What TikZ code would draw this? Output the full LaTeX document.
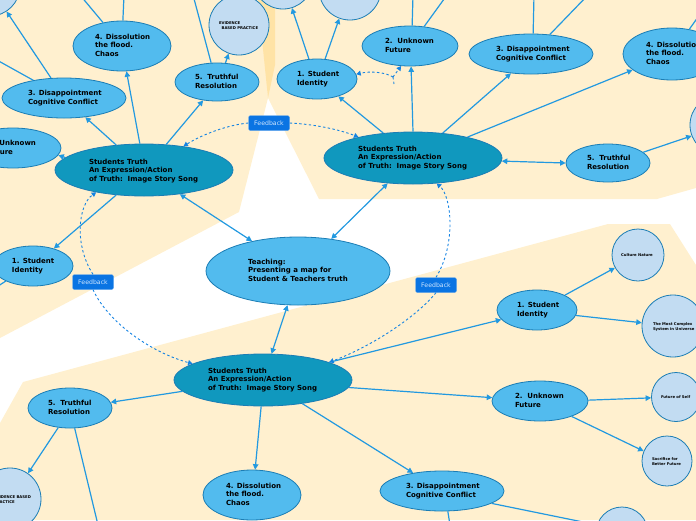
\documentclass[tikz,border=0pt]{standalone}
\usepackage{fontspec}
\setmainfont{DejaVu Sans}
\usetikzlibrary{shapes.geometric,arrows.meta}
\definecolor{beige}{HTML}{FFF0CF}
\definecolor{wedge}{HTML}{FFE3A6}
\definecolor{lightblue}{HTML}{52BBEE}
\definecolor{tealblue}{HTML}{1098BE}
\definecolor{paleblue}{HTML}{C2DCF2}
\definecolor{edgeblue}{HTML}{1B7DB5}
\definecolor{linkblue}{HTML}{2299E0}
\definecolor{fbblue}{HTML}{0A74E3}
\definecolor{fbtext}{HTML}{CFE6FF}
\newcommand\etext[3]{\smash{\rlap{\hspace*{#1pt}\raisebox{\dimexpr#2pt-2pt\relax}{\begin{tabular}[c]{@{}l@{}}#3\end{tabular}}}}}
\tikzset{
  bg/.style={fill=beige,draw=none},
  topic/.style={ellipse,draw=edgeblue,line width=0.8pt,fill=lightblue,inner sep=0pt,text=black,
     font=\fontsize{7}{8.5}\selectfont\bfseries},
  truth/.style={topic,fill=tealblue},
  leaf/.style={circle,draw=edgeblue,line width=0.8pt,fill=paleblue,inner sep=0pt,text=black,
     font=\fontsize{3.8}{5}\selectfont\bfseries},
  fb/.style={rectangle,rounded corners=1.5pt,fill=fbblue,draw=fbblue!60!white,line width=0.3pt,text=fbtext,
     minimum width=41pt,minimum height=15pt,inner sep=0pt,font=\fontsize{6.2}{8}\selectfont},
  link/.style={draw=linkblue,line width=1.2pt,-{Triangle[length=5.5pt,width=5.5pt]}},
  plainlink/.style={draw=linkblue,line width=1.2pt},
  both/.style={draw=linkblue,line width=1.2pt,{Triangle[length=5.5pt,width=5.5pt]}-{Triangle[length=5.5pt,width=5.5pt]}},
  fbdash/.style={draw=fbblue!60!linkblue,line width=0.9pt,dash pattern=on 2.4pt off 2.4pt},
  dasharrow/.style={fbdash,-{Triangle[length=4.5pt,width=5pt]}}
}
\begin{document}
\begin{tikzpicture}[x=1pt,y=-1pt]
\useasboundingbox (0,0) rectangle (696,520);
\clip (0,0) rectangle (696,520);
% backgrounds
\fill[bg] (0,0) -- (262,0) -- (268,98) -- (239,212) -- (0,338) -- cycle;
\fill[bg] (262,0) -- (696,0) -- (696,188) -- (657,199) -- (319,199) -- (268,98) -- cycle;
\fill[bg] (0,423) -- (23,382) -- (608,224) -- (670,224) -- (696,265) -- (696,520) -- (0,520) -- cycle;
\fill[wedge] (258,0) -- (275,0) -- (275,65) -- (268,98) -- cycle;
% central
\node[topic,minimum width=184pt,minimum height=68pt] (teach) at (298,271) {\etext{-50}{0}{Teaching:\\Presenting a map for\\Student \& Teachers truth}};
% truth nodes
\node[truth,minimum width=178pt,minimum height=52pt] (stL) at (144,170) {\etext{-55}{-1}{Students Truth\\An Expression/Action\\of Truth:\ \ Image Story Song}};
\node[truth,minimum width=178pt,minimum height=52pt] (stR) at (413,158) {\etext{-55}{0}{Students Truth\\An Expression/Action\\of Truth:\ \ Image Story Song}};
\node[truth,minimum width=178pt,minimum height=52pt] (stB) at (263,380) {\etext{-55}{0}{Students Truth\\An Expression/Action\\of Truth:\ \ Image Story Song}};
% left cluster
\node[topic,minimum width=98pt,minimum height=50pt] (l4) at (122,46) {\etext{-27}{0}{4. Dissolution\\the flood.\\Chaos}};
\node[topic,minimum width=124pt,minimum height=40pt] (l3) at (64,98) {\etext{-36}{0}{3. Disappointment\\Cognitive Conflict}};
\node[topic,minimum width=84pt,minimum height=38pt] (l5) at (217,82) {\etext{-22}{0}{5.\ \ Truthful\\Resolution}};
\node[topic,minimum width=96pt,minimum height=40pt] (l2) at (13,148) {\etext{-26}{0}{2.\ \ Unknown\\Future}};
\node[topic,minimum width=80pt,minimum height=40pt] (l1) at (33,266) {\etext{-21}{0}{1. Student\\Identity}};
% right cluster
\node[topic,minimum width=80pt,minimum height=40pt] (r1) at (317,79) {\etext{-20}{0}{1. Student\\Identity}};
\node[topic,minimum width=96pt,minimum height=40pt] (r2) at (410,46) {\etext{-25}{0}{2.\ \ Unknown\\Future}};
\node[topic,minimum width=124pt,minimum height=40pt] (r3) at (531,54) {\etext{-35}{0}{3. Disappointment\\Cognitive Conflict}};
\node[topic,minimum width=98pt,minimum height=52pt] (r4) at (672,54) {\etext{-26}{0}{4. Dissolution\\the flood.\\Chaos}};
\node[topic,minimum width=84pt,minimum height=38pt] (r5) at (608,163) {\etext{-21}{0}{5.\ \ Truthful\\Resolution}};
% bottom cluster
\node[topic,minimum width=80pt,minimum height=40pt] (b1) at (537,310) {\etext{-20}{0}{1. Student\\Identity}};
\node[topic,minimum width=96pt,minimum height=40pt] (b2) at (540,401) {\etext{-25}{0}{2.\ \ Unknown\\Future}};
\node[topic,minimum width=124pt,minimum height=40pt] (b3) at (442,491) {\etext{-36}{0}{3. Disappointment\\Cognitive Conflict}};
\node[topic,minimum width=98pt,minimum height=50pt] (b4) at (252,495) {\etext{-26}{0}{4. Dissolution\\the flood.\\Chaos}};
\node[topic,minimum width=84pt,minimum height=40pt] (b5) at (70,408) {\etext{-22}{0}{5.\ \ Truthful\\Resolution}};
% leaves
\node[leaf,minimum size=60pt] (evT) at (239,25) {\etext{-20}{0}{EVIDENCE\\\ \ BASED PRACTICE}};
\node[leaf,minimum size=60pt] (cA) at (-10,-14) {};
\node[leaf,minimum size=60pt] (cB) at (283,-21) {};
\node[leaf,minimum size=62pt] (cC) at (350,-11) {};
\node[leaf,minimum size=60pt] (cD) at (720,125) {};
\node[leaf,minimum size=52pt] (culture) at (638,255) {\etext{-17}{0}{Culture Nature}};
\node[leaf,minimum size=62pt] (complex) at (673,326) {\etext{-20}{0}{The Most Complex\\System in Universe}};
\node[leaf,minimum size=49pt] (future) at (676,397) {\etext{-15}{0}{Future of Self}};
\node[leaf,minimum size=50pt] (sacrifice) at (667,461) {\etext{-15}{0}{Sacrifice for\\Better Future}};
\node[leaf,minimum size=62pt] (evB) at (10,499) {\etext{-16}{0}{EVIDENCE BASED\\PRACTICE}};
\node[leaf,minimum size=52pt] (cE) at (622,533) {};
% feedback
\node[fb] (fb1) at (269,123) {Feedback};
\node[fb] (fb2) at (93,282) {Feedback};
\node[fb] (fb3) at (436,285) {Feedback};
% free ends
\coordinate (e3a) at (-5,59);
\coordinate (e4a) at (80,-5);
\coordinate (e4b) at (124,-5);
\coordinate (e5a) at (193,-5);
\coordinate (e1l) at (-5,288);
\coordinate (er2a) at (413,-5);
\coordinate (er2b) at (447,-5);
\coordinate (er3a) at (534,-5);
\coordinate (er3b) at (588,-5);
\coordinate (er4) at (703,10);
\coordinate (eb5) at (98,525);
\coordinate (eb3) at (450,525);
\coordinate (pivot) at (393,77);
\coordinate (stub) at (394,84);
% links left
\draw[link] (stL.99) -- (l4.280);
\draw[link] (stL.138) -- (l3.318);
\draw[link] (stL.49) -- (l5.233);
\draw[link] (stL.171) -- (l2.351);
\draw[link] (stL.222) -- (l1.40);
\draw[both] (stL.326) -- (teach.147);
\draw[link] (l3.123) -- (cA.303);
\draw[plainlink] (l3.150) -- (e3a);
\draw[plainlink] (l4.129) -- (e4a);
\draw[plainlink] (l4.88) -- (e4b);
\draw[link] (l5.66) -- (evT.250);
\draw[plainlink] (l5.107) -- (e5a);
\draw[plainlink] (l1.209) -- (e1l);
% links right
\draw[both] (stR.225) -- (teach.44);
\draw[link] (stR.140) -- (r1.321);
\draw[link] (stR.90) -- (r2.273);
\draw[link] (stR.40) -- (r3.224);
\draw[link] (stR.21) -- (r4.202);
\draw[both] (stR.358) -- (r5.180);
\draw[link] (r5.17) -- (cD.201);
\draw[link] (r1.112) -- (cB.287);
\draw[link] (r1.68) -- (cC.250);
\draw[plainlink] (r2.84) -- (er2a);
\draw[plainlink] (r2.54) -- (er2b);
\draw[plainlink] (r3.84) -- (er3a);
\draw[plainlink] (r3.46) -- (er3b);
\draw[plainlink] (r4.55) -- (er4);
% links bottom
\draw[both] (teach.253) -- (stB.72);
\draw[link] (stB.188) -- (b5.8);
\draw[link] (stB.266) -- (b4.83);
\draw[link] (stB.329) -- (b3.148);
\draw[link] (stB.355) -- (b2.176);
\draw[link] (stB.15) -- (b1.195);
\draw[link] (b5.239) -- (evB.55);
\draw[plainlink] (b5.283) -- (eb5);
\draw[link] (b1.28) -- (culture.209);
\draw[link] (b1.352) -- (complex.174);
\draw[link] (b2.1) -- (future.182);
\draw[link] (b2.334) -- (sacrifice.157);
\draw[link] (b3.346) -- (cE.162);
\draw[plainlink] (b3.286) -- (eb3);
% feedback dashed
\draw[dasharrow] (fb1.west) .. controls (228,125) and (203,134) .. (stL.31);
\draw[dasharrow] (fb1.east) .. controls (312,124) and (338,129) .. (stR.159);
\draw[dasharrow] (fb2.north) .. controls (74,245) and (78,205) .. (stL.205);
\draw[dasharrow] (fb2.south) .. controls (108,322) and (150,352) .. (stB.167);
\draw[dasharrow] (fb3.north) .. controls (456,245) and (452,197) .. (stR.313);
\draw[dasharrow] (fb3.south) .. controls (418,315) and (375,345) .. (stB.15);
\draw[dasharrow] (pivot) .. controls (385,72) and (370,71) .. (r1.7);
\draw[dasharrow] (pivot) -- (r2.246);
\draw[fbdash] (pivot) -- (stub);
\end{tikzpicture}
\end{document}
